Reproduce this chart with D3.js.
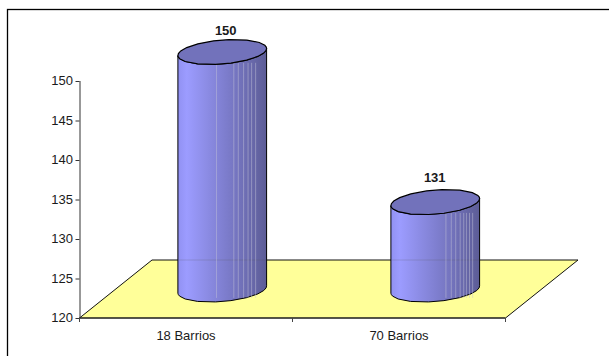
<!DOCTYPE html>
<html><head><meta charset="utf-8">
<script src="https://cdn.jsdelivr.net/npm/d3@7/dist/d3.min.js"></script>
<style>html,body{margin:0;padding:0;background:#fff;overflow:hidden}svg{display:block}text{font-family:"Liberation Sans",Arial,sans-serif;fill:#1a1a1a}</style>
</head><body><div id="c"></div>
<script>
const categories = ["18 Barrios", "70 Barrios"];
const values = [150, 131];
const yTicks = [120, 125, 130, 135, 140, 145, 150];

const W = 609, H = 356;
const svg = d3.select("#c").append("svg").attr("width", W).attr("height", H);
const defs = svg.append("defs");
const grad = defs.append("linearGradient").attr("id", "cyl");
[[0,"#9191f2"],[0.1,"#9c9cff"],[0.35,"#8a8ae2"],[0.7,"#7272bb"],[1,"#5c5c96"]].forEach(s =>
  grad.append("stop").attr("offset", s[0]).attr("stop-color", s[1]));

// frame: its right and bottom sides fall outside the picture
svg.append("rect").attr("x", 7.5).attr("y", 9.5).attr("width", 640).attr("height", 400)
  .attr("fill", "#fff").attr("stroke", "#000").attr("stroke-width", 1.3);

const x = d3.scaleBand().domain(categories).range([79.5, 505.5]);
const y = d3.scaleLinear().domain([120, 150]).range([318, 81]);
const depthX = 72.5, depthY = 58;

// floor
const fl = [[x.range()[0], y(120)], [x.range()[1], y(120)], [x.range()[1] + depthX, y(120) - depthY], [x.range()[0] + depthX, y(120) - depthY]];
svg.append("path").attr("d", d3.line()(fl) + "Z").attr("fill", "#ffff99").attr("stroke", "#111").attr("stroke-width", 1);

// axes
const gy = svg.append("g").attr("transform", `translate(${x.range()[0]},0)`)
  .call(d3.axisLeft(y).tickValues(yTicks).tickSize(4).tickPadding(2.5));
gy.selectAll("text").attr("font-size", 13).attr("dy", "0.3em").style("font-family", '"Liberation Sans",Arial,sans-serif').style("fill", "#1a1a1a");
gy.selectAll("path,line").attr("stroke", "#333");
gy.select("path").attr("d", `M0.5,${y(150)}V${y(120)}`);

const gx = svg.append("g").attr("transform", `translate(0,${y(120)})`);
gx.append("line").attr("x1", x.range()[0]).attr("x2", x.range()[1]).attr("stroke", "#222").attr("stroke-width", 1.2);
[0, 1, 2].forEach(i => gx.append("line").attr("x1", x.range()[0] + i * x.bandwidth()).attr("x2", x.range()[0] + i * x.bandwidth())
  .attr("y1", 0).attr("y2", 4).attr("stroke", "#444"));
gx.selectAll("text").data(categories).join("text")
  .attr("x", d => x(d) + x.bandwidth() / 2).attr("y", 21.5).attr("text-anchor", "middle").attr("font-size", 13).text(d => d);

// cylinders
const rx = 44.5, ry = 12, tilt = -4.8 * Math.PI / 180;
function ell(cx, cy, t) {
  return [cx + rx * Math.cos(t) * Math.cos(tilt) - ry * Math.sin(t) * Math.sin(tilt),
          cy + rx * Math.cos(t) * Math.sin(tilt) + ry * Math.sin(t) * Math.cos(tilt)];
}
// facet sampling gives the slightly lumpy outline of the original
const facetDeg = [0, 10, 22, 38, 58, 80, 100, 125, 148, 165, 174, 180];
const rad = d => d * Math.PI / 180;
const streaks = [[0.435, 0.63, 0.68, 0.74, 0.79, 0.83, 0.875], [0.62, 0.68, 0.73, 0.78, 0.82, 0.85, 0.885, 0.92]];
const labelShift = [[3.5, 0], [-0.5, 3]];
categories.forEach((c, i) => {
  const cx = x(c) + x.bandwidth() / 2 + depthX / 2;
  const base = y(120) - depthY / 2 + 0.5;
  const top = y(values[i]) - depthY / 2;
  const front = facetDeg.map(d => ell(cx, base, rad(d)));
  const upper = facetDeg.slice().reverse().map(d => ell(cx, top, rad(d)));
  const g = svg.append("g");
  g.append("path").attr("d", d3.line()(front.concat(upper)) + "Z").attr("fill", "url(#cyl)")
    .attr("stroke", "#000").attr("stroke-width", 1);
  // faint back edge of the floor seen through the column
  const backY = y(120) - depthY;
  g.append("line").attr("x1", cx - rx).attr("x2", cx + rx).attr("y1", backY).attr("y2", backY)
    .attr("stroke", "#555").attr("stroke-width", 0.6).attr("opacity", 0.35);
  streaks[i].forEach(f => {
    const sx = cx - rx + f * 2 * rx;
    const yTop = top + ry * 0.9, yBot = base + ry * 0.7;
    const sg = g.append("line").attr("x1", sx).attr("x2", sx).attr("y1", yTop).attr("y2", yBot)
      .attr("stroke", "#c4c4d8").attr("stroke-width", 0.8).attr("opacity", 0.6);
  });
  const all = [...facetDeg, ...facetDeg.slice(1, -1).map(d => d + 180), 360].map(d => ell(cx, top, rad(d)));
  g.append("path").attr("d", d3.line()(all) + "Z").attr("fill", "#7272bb").attr("stroke", "#000").attr("stroke-width", 1.2);
  g.append("text").attr("x", cx + labelShift[i][0]).attr("y", top - 17.5 - labelShift[i][1]).attr("text-anchor", "middle")
    .attr("font-size", 13).attr("font-weight", "bold").text(values[i]);
});
</script></body></html>
